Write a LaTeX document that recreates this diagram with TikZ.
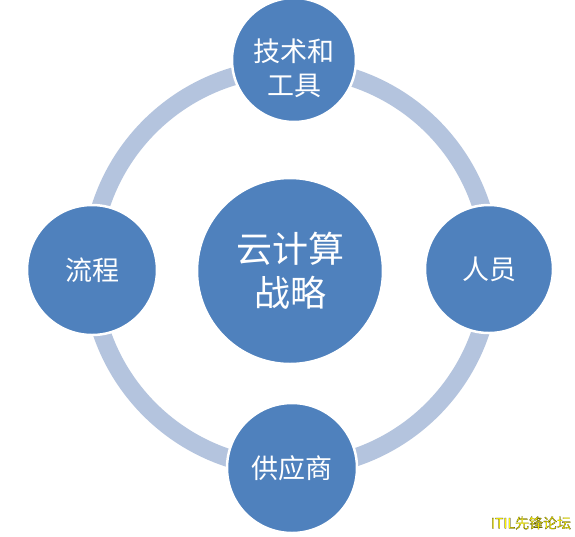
\documentclass[tikz,border=0pt]{standalone}
\usepackage{fontspec}
\newfontfamily\cjk{Noto Sans CJK SC}
\newfontfamily\cjkb[FakeBold=1]{Noto Sans CJK SC}
\definecolor{ringc}{RGB}{180,196,222}
\definecolor{bubc}{RGB}{79,129,189}
\definecolor{wmy}{RGB}{255,245,0}
\begin{document}
\begin{tikzpicture}[x=1pt,y=-1pt,
  ring/.style={draw=ringc,line width=18pt},
  bubble/.style={circle,fill=bubc,draw=white,line width=2.5pt,inner sep=0pt,text=white,align=center},
  small/.style={bubble,font=\cjk\fontsize{27}{34}\selectfont},
  lbl/.style={text=white,align=center,inner sep=0pt,font=\cjk\fontsize{27}{34}\selectfont}]
\useasboundingbox (0,0) rectangle (575,536);
\fill[white] (0,0) rectangle (575,536);
\coordinate (o) at (291,268);
\draw[ring] (o) circle (200pt);
\node[bubble,minimum size=186pt,font=\cjk\fontsize{36}{44}\selectfont] (c) at (290,271) {云计算\\战略};
\node[small,minimum size=124pt] (t) at (294,60) {};
\node[lbl] (tl) at ([yshift=-8pt]t.center) {技术和\\工具};
\node[small,minimum size=128pt] (r) at (489,269) {人员};
\node[small,minimum size=130pt] (l) at (92,270) {流程};
\node[small,minimum size=130pt] (b) at (292,468) {供应商};
\node[inner sep=0pt,text=wmy,font=\cjkb\fontsize{14}{16}\selectfont] (wm) at (531,523) {\special{pdf:literal 0.15 0.15 0 RG}ITIL先锋论坛};
\end{tikzpicture}
\end{document}
